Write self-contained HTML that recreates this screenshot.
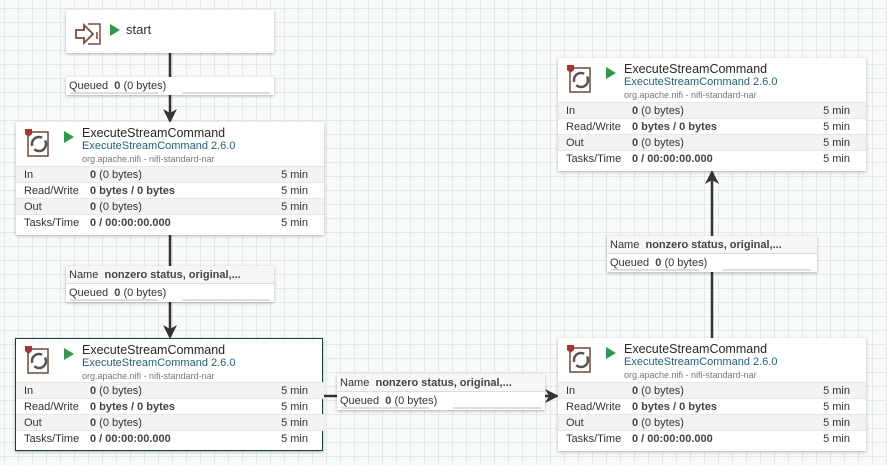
<!DOCTYPE html>
<html><head><meta charset="utf-8"><style>
*{margin:0;padding:0;box-sizing:border-box}
body{width:887px;height:465px;overflow:hidden;position:relative;font-family:"Liberation Sans",sans-serif;color:#333;
background-color:#f9fafa;
background-image:linear-gradient(to right,#e3e8ea 1px,transparent 1px),linear-gradient(to bottom,#e3e8ea 1px,transparent 1px);
background-size:14px 14px;background-position:4px 8px}
.box{position:absolute;background:#fff;box-shadow:0 1px 3px rgba(0,0,0,.3)}
.proc{width:308px;height:113px}
.proc .t1{position:absolute;left:66px;top:4px;font-size:12.5px;color:#262626}
.proc .t2{position:absolute;left:66px;top:18px;font-size:11px;color:#1f5f7a}
.proc .t3{position:absolute;left:66px;top:32px;font-size:9px;color:#777}
.play{position:absolute;width:0;height:0;border-left:10px solid #2e9b48;border-top:6px solid transparent;border-bottom:6px solid transparent}
.proc .play{left:48px;top:9px}
.row{position:absolute;left:0;width:308px;height:16px;font-size:11px;line-height:16px;border-top:1px solid #e6e6e6}
.row.g{background:#f3f3f3}
.row .a{position:absolute;left:8px}
.row .b{position:absolute;left:74px}
.row .c{position:absolute;right:16px}
b{font-weight:bold;color:#444}
.lbl{position:absolute;background:#fff;box-shadow:0 1px 3px rgba(0,0,0,.3);width:208px;font-size:11px}
.lbl .r{height:18px;line-height:18px;padding-left:3px;position:relative}
.lbl .bar1,.lbl .bar2{position:absolute;bottom:1px;height:2px;background:#ddd}
.lbl .bar1{left:4px;width:88px}.lbl .bar2{left:116px;width:88px}
.nm{border-bottom:1px solid #ddd;background:#f7f7f7}
.icon{position:absolute;left:8px;top:6px}
svg.l{position:absolute;left:0;top:0}
</style></head><body>
<svg class="l" width="887" height="465">
<defs><marker id="ar" markerWidth="14" markerHeight="14" refX="12" refY="7" orient="auto" markerUnits="userSpaceOnUse"><path d="M0,0 L14,7 L0,14 L4,7 z" fill="#333"/></marker></defs>
<g stroke="#333" stroke-width="2.5" fill="none">
<line x1="170" y1="53" x2="170" y2="121" marker-end="url(#ar)"/>
<line x1="170" y1="234" x2="170" y2="337" marker-end="url(#ar)"/>
<line x1="324" y1="396" x2="557" y2="396" marker-end="url(#ar)"/>
<line x1="712" y1="338" x2="712" y2="172" marker-end="url(#ar)"/>
</g></svg>

<div class="box" style="left:66px;top:10px;width:208px;height:43px">
<svg style="position:absolute;left:8px;top:12px" width="28" height="24"><path d="M2,8 h8 v-5 l9,9 l-9,9 v-5 h-8z" fill="none" stroke="#7a4b3a" stroke-width="1.8"/><path d="M14,2 h12 v20 h-12" fill="none" stroke="#7a4b3a" stroke-width="1.5"/><line x1="23" y1="10" x2="23" y2="17" stroke="#7a4b3a" stroke-width="1.5"/></svg>
<div class="play" style="left:44px;top:14px"></div>
<div style="position:absolute;left:60px;top:12px;font-size:13px">start</div>
</div>

<div class="lbl" style="left:66px;top:77px"><div class="r">Queued&nbsp; <b>0</b> (0 bytes)<div class="bar1"></div><div class="bar2"></div></div></div>

<div class="box proc" style="left:16px;top:122px">
<svg class="icon" width="30" height="32"><rect x="4" y="4" width="20" height="24" fill="none" stroke="#6a4a3a" stroke-width="1.5"/><path d="M1,1 h7 v5 l-3.5,3 l-3.5,-3z" fill="#a33"/><circle cx="15" cy="16" r="7" fill="none" stroke="#555" stroke-width="2.5" stroke-dasharray="16 4"/></svg>
<div class="play"></div><div class="t1">ExecuteStreamCommand</div><div class="t2">ExecuteStreamCommand 2.6.0</div><div class="t3">org.apache.nifi - nifi-standard-nar</div>
<div class="row g" style="top:44px"><span class="a">In</span><span class="b"><b>0</b> (0 bytes)</span><span class="c">5 min</span></div>
<div class="row" style="top:60px"><span class="a">Read/Write</span><span class="b"><b>0 bytes / 0 bytes</b></span><span class="c">5 min</span></div>
<div class="row g" style="top:76px"><span class="a">Out</span><span class="b"><b>0</b> (0 bytes)</span><span class="c">5 min</span></div>
<div class="row" style="top:92px"><span class="a">Tasks/Time</span><span class="b"><b>0 / 00:00:00.000</b></span><span class="c">5 min</span></div>
</div>

<div class="box proc" style="left:15px;top:338px;border:1.5px solid #16423c">
<svg class="icon" width="30" height="32"><rect x="4" y="4" width="20" height="24" fill="none" stroke="#6a4a3a" stroke-width="1.5"/><path d="M1,1 h7 v5 l-3.5,3 l-3.5,-3z" fill="#a33"/><circle cx="15" cy="16" r="7" fill="none" stroke="#555" stroke-width="2.5" stroke-dasharray="16 4"/></svg>
<div class="play"></div><div class="t1">ExecuteStreamCommand</div><div class="t2">ExecuteStreamCommand 2.6.0</div><div class="t3">org.apache.nifi - nifi-standard-nar</div>
<div class="row g" style="top:43px"><span class="a">In</span><span class="b"><b>0</b> (0 bytes)</span><span class="c">5 min</span></div>
<div class="row" style="top:59px"><span class="a">Read/Write</span><span class="b"><b>0 bytes / 0 bytes</b></span><span class="c">5 min</span></div>
<div class="row g" style="top:75px"><span class="a">Out</span><span class="b"><b>0</b> (0 bytes)</span><span class="c">5 min</span></div>
<div class="row" style="top:91px"><span class="a">Tasks/Time</span><span class="b"><b>0 / 00:00:00.000</b></span><span class="c">5 min</span></div>
</div>

<div class="box proc" style="left:558px;top:338px">
<svg class="icon" width="30" height="32"><rect x="4" y="4" width="20" height="24" fill="none" stroke="#6a4a3a" stroke-width="1.5"/><path d="M1,1 h7 v5 l-3.5,3 l-3.5,-3z" fill="#a33"/><circle cx="15" cy="16" r="7" fill="none" stroke="#555" stroke-width="2.5" stroke-dasharray="16 4"/></svg>
<div class="play"></div><div class="t1">ExecuteStreamCommand</div><div class="t2">ExecuteStreamCommand 2.6.0</div><div class="t3">org.apache.nifi - nifi-standard-nar</div>
<div class="row g" style="top:44px"><span class="a">In</span><span class="b"><b>0</b> (0 bytes)</span><span class="c">5 min</span></div>
<div class="row" style="top:60px"><span class="a">Read/Write</span><span class="b"><b>0 bytes / 0 bytes</b></span><span class="c">5 min</span></div>
<div class="row g" style="top:76px"><span class="a">Out</span><span class="b"><b>0</b> (0 bytes)</span><span class="c">5 min</span></div>
<div class="row" style="top:92px"><span class="a">Tasks/Time</span><span class="b"><b>0 / 00:00:00.000</b></span><span class="c">5 min</span></div>
</div>

<div class="box proc" style="left:558px;top:58px">
<svg class="icon" width="30" height="32"><rect x="4" y="4" width="20" height="24" fill="none" stroke="#6a4a3a" stroke-width="1.5"/><path d="M1,1 h7 v5 l-3.5,3 l-3.5,-3z" fill="#a33"/><circle cx="15" cy="16" r="7" fill="none" stroke="#555" stroke-width="2.5" stroke-dasharray="16 4"/></svg>
<div class="play"></div><div class="t1">ExecuteStreamCommand</div><div class="t2">ExecuteStreamCommand 2.6.0</div><div class="t3">org.apache.nifi - nifi-standard-nar</div>
<div class="row g" style="top:44px"><span class="a">In</span><span class="b"><b>0</b> (0 bytes)</span><span class="c">5 min</span></div>
<div class="row" style="top:60px"><span class="a">Read/Write</span><span class="b"><b>0 bytes / 0 bytes</b></span><span class="c">5 min</span></div>
<div class="row g" style="top:76px"><span class="a">Out</span><span class="b"><b>0</b> (0 bytes)</span><span class="c">5 min</span></div>
<div class="row" style="top:92px"><span class="a">Tasks/Time</span><span class="b"><b>0 / 00:00:00.000</b></span><span class="c">5 min</span></div>
</div>

<div class="lbl" style="left:66px;top:266px"><div class="r nm">Name&nbsp; <b>nonzero status, original,...</b></div><div class="r">Queued&nbsp; <b>0</b> (0 bytes)<div class="bar1"></div><div class="bar2"></div></div></div>
<div class="lbl" style="left:337px;top:374px"><div class="r nm">Name&nbsp; <b>nonzero status, original,...</b></div><div class="r">Queued&nbsp; <b>0</b> (0 bytes)<div class="bar1"></div><div class="bar2"></div></div></div>
<div class="lbl" style="left:607px;top:236px;width:210px"><div class="r nm">Name&nbsp; <b>nonzero status, original,...</b></div><div class="r">Queued&nbsp; <b>0</b> (0 bytes)<div class="bar1"></div><div class="bar2"></div></div></div>
</body></html>
